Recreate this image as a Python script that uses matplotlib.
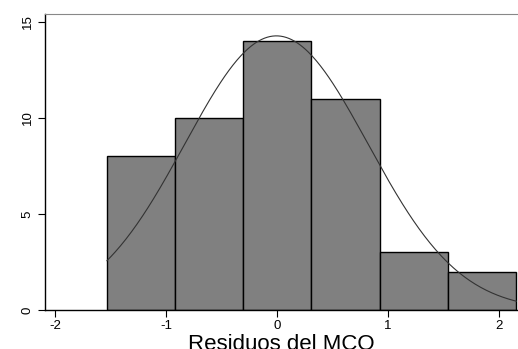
import numpy as np
import matplotlib
matplotlib.use("Agg")
import matplotlib.pyplot as plt

plt.rcParams['font.family'] = ['Liberation Sans', 'DejaVu Sans']

bin_edges = [-1.532, -0.919, -0.303, 0.309, 0.928, 1.543, 2.155]
counts = [8, 10, 14, 11, 3, 2]
fit_mean = -0.006
fit_sd = 0.824
n_obs = sum(counts)
x_ticks = [-2, -1, 0, 1, 2]
y_ticks = [0, 5, 10, 15]

fig = plt.figure(figsize=(5.18, 3.49), dpi=100)
ax = fig.add_axes([45/518, 39/349, 1 - 45/518, (310-14)/349])

edges = np.array(bin_edges)
widths = np.diff(edges)
ax.bar(edges[:-1], counts, width=widths, align='edge', color='#808080',
       edgecolor='black', linewidth=1.0, zorder=2)

xs = np.linspace(edges[0], edges[-1], 300)
bw = widths.mean()
ys = n_obs * bw * np.exp(-0.5 * ((xs - fit_mean) / fit_sd) ** 2) / (fit_sd * np.sqrt(2 * np.pi))
ax.plot(xs, ys, color='#333333', linewidth=0.8, zorder=3)

ax.set_xlim(-2.09, 2.17)
ax.set_ylim(0, 15.42)
ax.set_xticks(x_ticks)
ax.set_xticklabels([str(t) for t in x_ticks])
ax.set_yticks(y_ticks)
ax.set_yticklabels([str(t) for t in y_ticks], rotation=90, va='center')
ax.tick_params(axis='both', direction='out', length=5, width=0.8, labelsize=9.5, colors='black')
ax.tick_params(axis='x', pad=2)
ax.tick_params(axis='y', pad=3)

ax.spines['right'].set_visible(False)
ax.spines['top'].set_color('#888888')
ax.spines['left'].set_linewidth(1.0)
ax.spines['bottom'].set_linewidth(1.0)

ax.set_xlabel('Residuos del MCO', fontsize=16, labelpad=0)
ax.xaxis.set_label_coords(0.5, -0.082, transform=ax.transAxes)
ax.xaxis.label.set_va('top')

fig.savefig('out.png', dpi=100)
